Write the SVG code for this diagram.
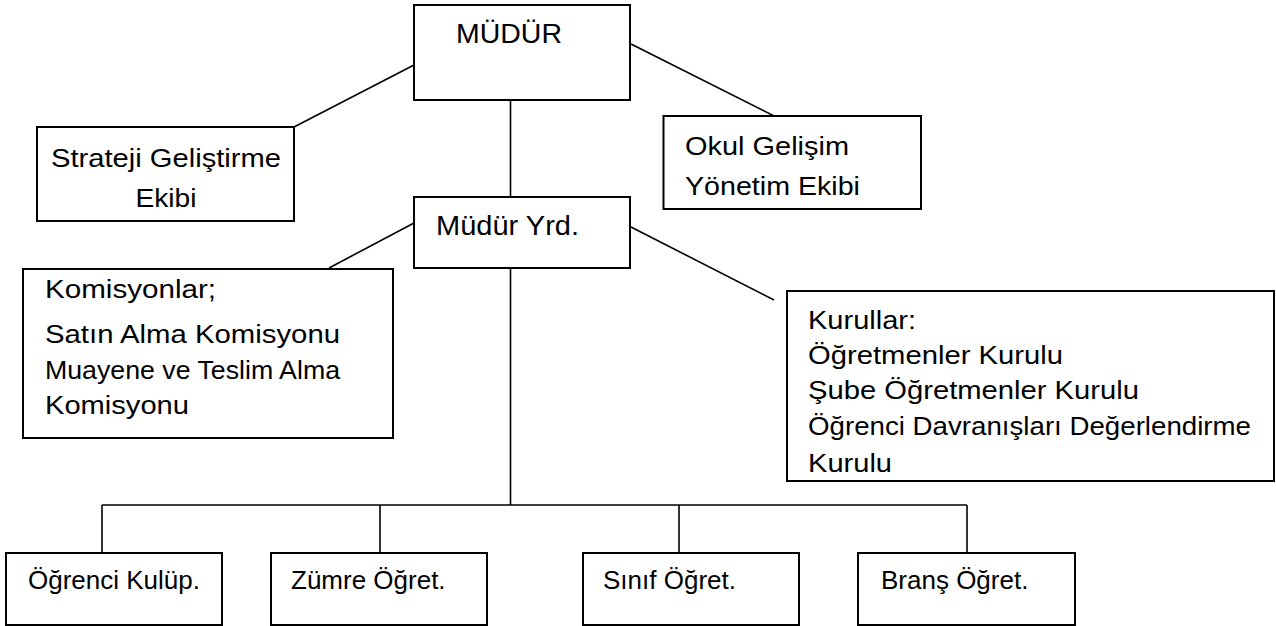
<svg xmlns="http://www.w3.org/2000/svg" width="1276" height="626" viewBox="0 0 1276 626">
<style>
.box{fill:#fff;stroke:#000;stroke-width:2}
.ln{stroke:#000;stroke-width:1.6;fill:none}
.t{font-family:"Liberation Sans",Arial,sans-serif;font-size:25px;fill:#000}
.tb{font-family:"Liberation Sans",Arial,sans-serif;font-size:26px;fill:#000}
</style>
<rect width="1276" height="626" fill="#fff"/>
<g id="connectors">
<line class="ln" x1="510.5" y1="100" x2="510.5" y2="197"/>
<line class="ln" x1="414" y1="65" x2="294" y2="127"/>
<line class="ln" x1="631" y1="44" x2="774" y2="116"/>
<line class="ln" x1="414" y1="223" x2="329" y2="268"/>
<line class="ln" x1="631" y1="227" x2="774" y2="300"/>
<line class="ln" x1="510.5" y1="268" x2="510.5" y2="505"/>
<line class="ln" x1="102" y1="505" x2="967" y2="505"/>
<line class="ln" x1="102" y1="505" x2="102" y2="553"/>
<line class="ln" x1="380" y1="505" x2="380" y2="553"/>
<line class="ln" x1="679" y1="505" x2="679" y2="553"/>
<line class="ln" x1="967" y1="505" x2="967" y2="553"/>
</g>
<g id="mudur">
<rect class="box" x="414" y="5" width="216" height="95"/>
<text class="t" x="456" y="43" style="font-size:27px" textLength="106" lengthAdjust="spacingAndGlyphs">MÜDÜR</text>
</g>
<g id="strateji">
<rect class="box" x="37" y="127" width="257" height="94"/>
<text class="t" x="166" y="167" text-anchor="middle" textLength="230" lengthAdjust="spacingAndGlyphs">Strateji Geliştirme</text>
<text class="t" x="166" y="207" text-anchor="middle" textLength="61" lengthAdjust="spacingAndGlyphs">Ekibi</text>
</g>
<g id="okul">
<rect class="box" x="663.5" y="116" width="257.5" height="93"/>
<text class="t" x="685" y="155" textLength="164" lengthAdjust="spacingAndGlyphs">Okul Gelişim</text>
<text class="t" x="685" y="194.5" textLength="175" lengthAdjust="spacingAndGlyphs">Yönetim Ekibi</text>
</g>
<g id="mudur-yrd">
<rect class="box" x="414" y="197" width="216" height="71"/>
<text class="t" x="436" y="235" style="font-size:27px" textLength="143" lengthAdjust="spacingAndGlyphs">Müdür Yrd.</text>
</g>
<g id="komisyonlar">
<rect class="box" x="23" y="269" width="370" height="169"/>
<text class="t" x="45" y="298" textLength="171" lengthAdjust="spacingAndGlyphs">Komisyonlar;</text>
<text class="t" x="45" y="343" textLength="295" lengthAdjust="spacingAndGlyphs">Satın Alma Komisyonu</text>
<text class="t" x="45" y="379" textLength="295" lengthAdjust="spacingAndGlyphs">Muayene ve Teslim Alma</text>
<text class="t" x="45" y="414" textLength="144" lengthAdjust="spacingAndGlyphs">Komisyonu</text>
</g>
<g id="kurullar">
<rect class="box" x="787" y="291" width="487" height="190"/>
<text class="t" x="808" y="329" textLength="108" lengthAdjust="spacingAndGlyphs">Kurullar:</text>
<text class="t" x="808" y="364" textLength="255" lengthAdjust="spacingAndGlyphs">Öğretmenler Kurulu</text>
<text class="t" x="808" y="399" textLength="331" lengthAdjust="spacingAndGlyphs">Şube Öğretmenler Kurulu</text>
<text class="t" x="808" y="435" textLength="443" lengthAdjust="spacingAndGlyphs">Öğrenci Davranışları Değerlendirme</text>
<text class="t" x="808" y="472" textLength="84" lengthAdjust="spacingAndGlyphs">Kurulu</text>
</g>
<g id="ogrenci-kulup">
<rect class="box" x="6" y="553" width="216" height="72"/>
<text class="tb" x="28" y="589">Öğrenci Kulüp.</text>
</g>
<g id="zumre">
<rect class="box" x="271" y="553" width="216" height="72"/>
<text class="tb" x="291" y="589">Zümre Öğret.</text>
</g>
<g id="sinif">
<rect class="box" x="583" y="553" width="216" height="72"/>
<text class="tb" x="603" y="589">Sınıf Öğret.</text>
</g>
<g id="brans">
<rect class="box" x="858" y="553" width="217" height="72"/>
<text class="tb" x="881" y="589">Branş Öğret.</text>
</g>
</svg>
